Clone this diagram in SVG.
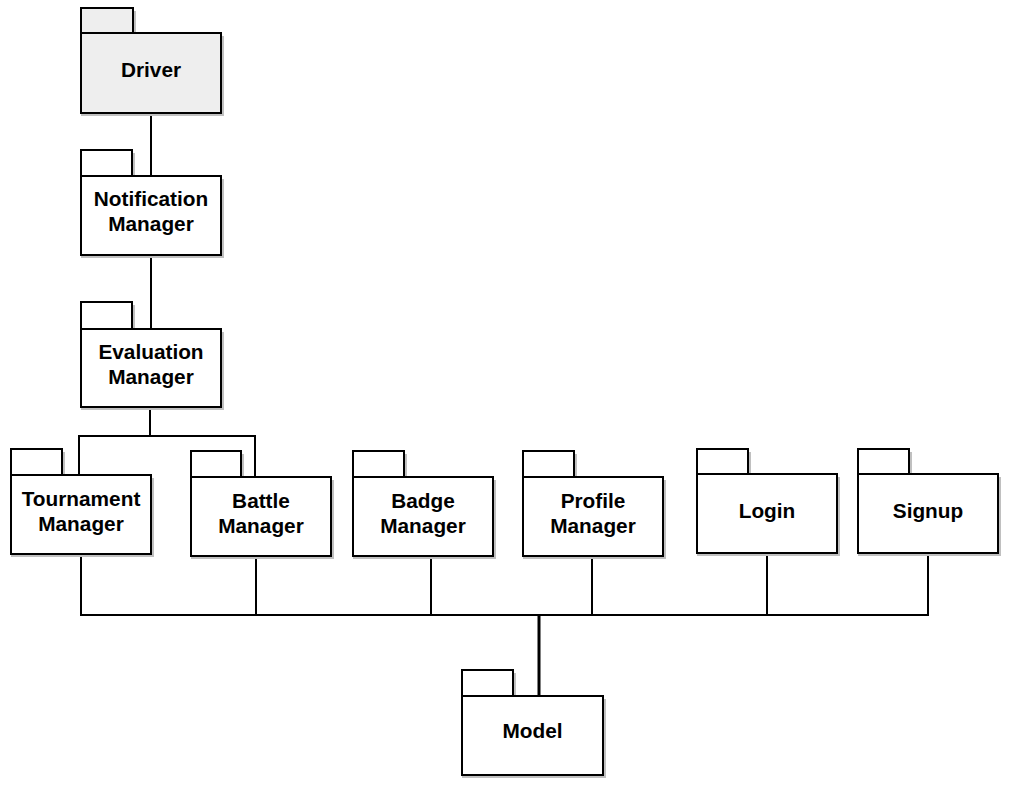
<svg xmlns="http://www.w3.org/2000/svg" width="1016" height="786" viewBox="0 0 1016 786">
<style>
.sh{fill:#c0c0c0;stroke:none}
.bx{fill:#ffffff;stroke:#000000;stroke-width:2}
.drv{fill:#eeeeee}
.lbl{font-family:"Liberation Sans",Arial,sans-serif;font-weight:bold;font-size:20.8px;fill:#000000;text-anchor:middle}
.ln{fill:none;stroke:#000000;stroke-width:2}
.thick{fill:none;stroke:#000000;stroke-width:3}
</style>
<rect width="1016" height="786" fill="#ffffff"/>
<g id="connectors">
<path class="ln" d="M151 113V176"/>
<path class="ln" d="M151 255V329"/>
<path class="ln" d="M150 407V436M79 475V436H255V477"/>
<path class="ln" d="M81 554V615H928V553"/>
<path class="ln" d="M256 556V615"/>
<path class="ln" d="M431 556V615"/>
<path class="ln" d="M592 556V615"/>
<path class="ln" d="M767 553V615"/>
<path class="thick" d="M539 615V696"/>
</g>
<g id="driver">
<path class="sh" d="M84 11h52v25h88v80h-143z"/>
<rect class="bx drv" x="81" y="8" width="52" height="25"/>
<rect class="bx drv" x="81" y="33" width="140" height="80"/>
<text class="lbl" x="151" y="77">Driver</text>
</g>
<g id="notification-manager">
<path class="sh" d="M84 153h51v26h89v79h-143z"/>
<rect class="bx" x="81" y="150" width="51" height="26"/>
<rect class="bx" x="81" y="176" width="140" height="79"/>
<text class="lbl" x="151" y="206">Notification</text>
<text class="lbl" x="151" y="231">Manager</text>
</g>
<g id="evaluation-manager">
<path class="sh" d="M84 305h51v27h89v78h-143z"/>
<rect class="bx" x="81" y="302" width="51" height="27"/>
<rect class="bx" x="81" y="329" width="140" height="78"/>
<text class="lbl" x="151" y="359">Evaluation</text>
<text class="lbl" x="151" y="384">Manager</text>
</g>
<g id="tournament-manager">
<path class="sh" d="M14 452h51v26h89v79h-143z"/>
<rect class="bx" x="11" y="449" width="51" height="26"/>
<rect class="bx" x="11" y="475" width="140" height="79"/>
<text class="lbl" x="81" y="506">Tournament</text>
<text class="lbl" x="81" y="531">Manager</text>
</g>
<g id="battle-manager">
<path class="sh" d="M194 454h50v26h90v79h-143z"/>
<rect class="bx" x="191" y="451" width="50" height="26"/>
<rect class="bx" x="191" y="477" width="140" height="79"/>
<text class="lbl" x="261" y="507.5">Battle</text>
<text class="lbl" x="261" y="532.5">Manager</text>
</g>
<g id="badge-manager">
<path class="sh" d="M356 454h51v26h89v79h-143z"/>
<rect class="bx" x="353" y="451" width="51" height="26"/>
<rect class="bx" x="353" y="477" width="140" height="79"/>
<text class="lbl" x="423" y="507.5">Badge</text>
<text class="lbl" x="423" y="532.5">Manager</text>
</g>
<g id="profile-manager">
<path class="sh" d="M526 454h51v26h89v79h-143z"/>
<rect class="bx" x="523" y="451" width="51" height="26"/>
<rect class="bx" x="523" y="477" width="140" height="79"/>
<text class="lbl" x="593" y="507.5">Profile</text>
<text class="lbl" x="593" y="532.5">Manager</text>
</g>
<g id="login">
<path class="sh" d="M700 452h51v25h89v79h-143z"/>
<rect class="bx" x="697" y="449" width="51" height="25"/>
<rect class="bx" x="697" y="474" width="140" height="79"/>
<text class="lbl" x="767" y="518">Login</text>
</g>
<g id="signup">
<path class="sh" d="M861 452h51v25h89v79h-143z"/>
<rect class="bx" x="858" y="449" width="51" height="25"/>
<rect class="bx" x="858" y="474" width="140" height="79"/>
<text class="lbl" x="928" y="518">Signup</text>
</g>
<g id="model">
<path class="sh" d="M465 673h51v26h90v79h-144z"/>
<rect class="bx" x="462" y="670" width="51" height="26"/>
<rect class="bx" x="462" y="696" width="141" height="79"/>
<text class="lbl" x="532.5" y="738">Model</text>
</g>
</svg>
